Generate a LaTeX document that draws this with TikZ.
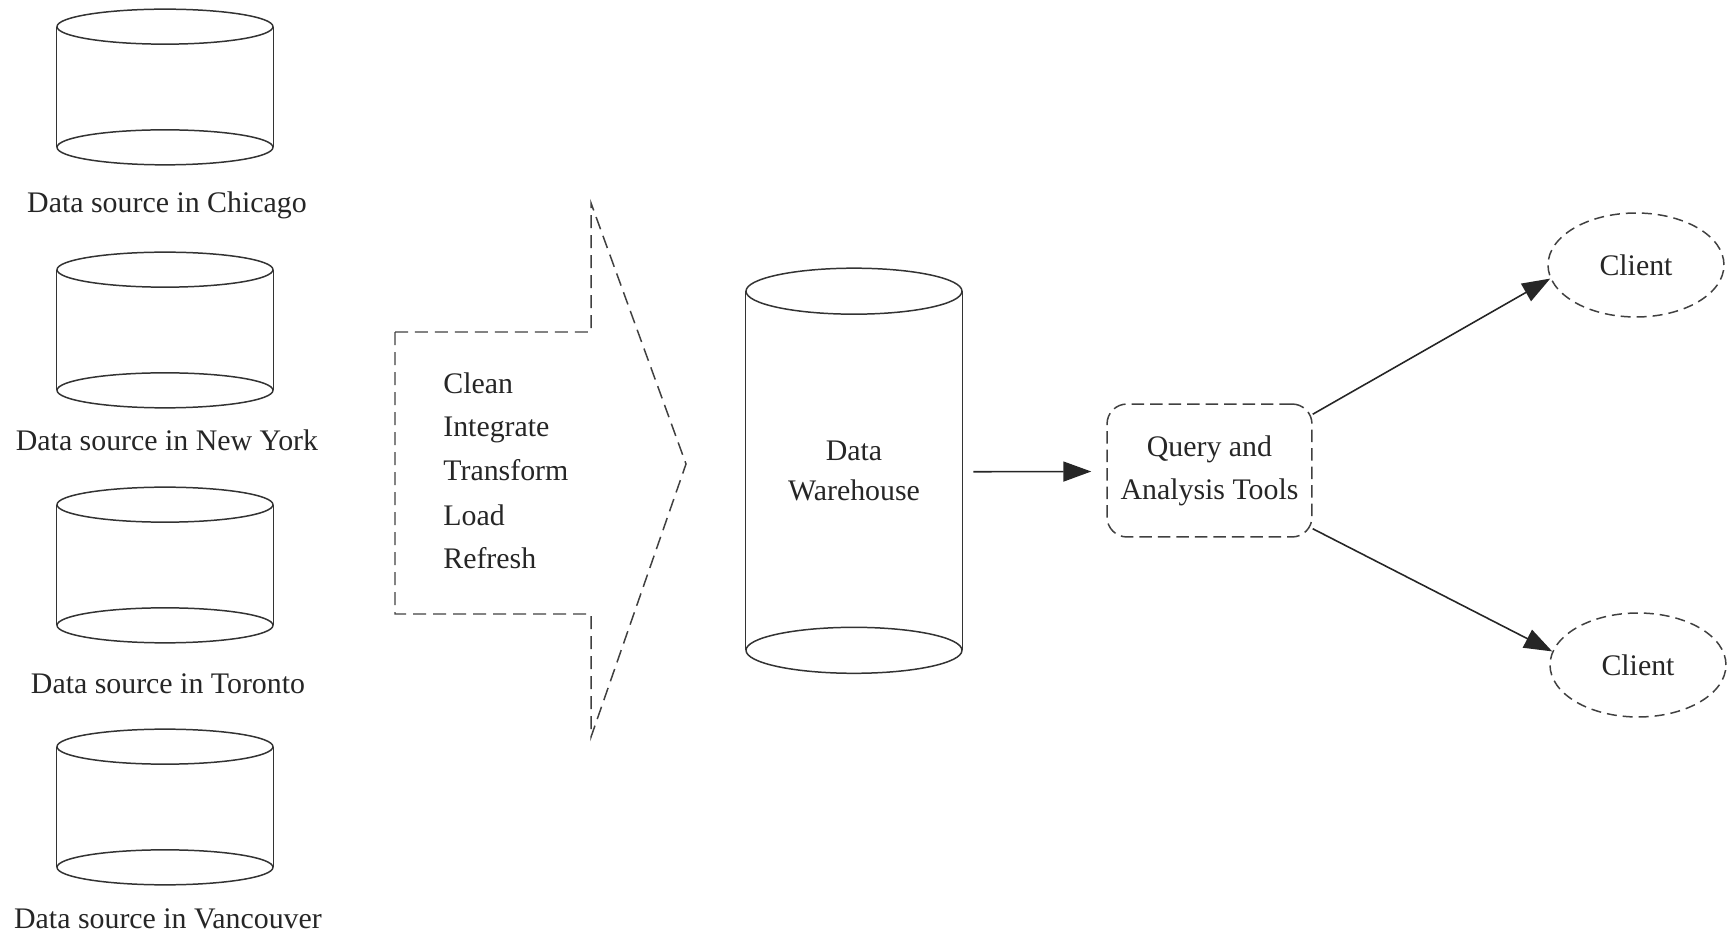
\documentclass[tikz,border=0pt]{standalone}
\usepackage{fontspec}
\setmainfont{Liberation Serif}
\usetikzlibrary{arrows.meta,calc,shapes.geometric}
\newcommand{\drawdb}[2]{%
  \draw[sline] (#1.north west) -- (#1.south west) (#1.north east) -- (#1.south east);
  \draw[sline] (#1.north) ellipse [x radius=2.16cm, y radius=#2];
  \draw[sline] (#1.south) ellipse [x radius=2.16cm, y radius=#2];}
\begin{document}
\begin{tikzpicture}[x=0.02cm,y=-0.02cm,
  txt/.style={font=\fontsize{17}{23}\selectfont, text=black!85, inner sep=0pt},
  sline/.style={line width=0.85pt, draw=black!80},
  dline/.style={line width=0.85pt, draw=black!75, dash pattern=on 0.2cm off 0.12cm},
  bline/.style={line width=0.85pt, draw=black!75, dash pattern=on 0.26cm off 0.14cm},
  dbbody/.style={rectangle, inner sep=0pt, minimum width=4.32cm},
  conn/.style={line width=0.9pt, draw=black!85, -{Triangle[length=0.56cm,width=0.4cm]}},
  lab/.style={txt, anchor=base}
]
\useasboundingbox (0,0) rectangle (1729,932);

% data sources
\node[dbbody, minimum height=2.4cm] (c1) at (165,87) {};
\node[dbbody, minimum height=2.4cm] (c2) at (165,330) {};
\node[dbbody, minimum height=2.4cm] (c3) at (165,565) {};
\node[dbbody, minimum height=2.4cm] (c4) at (165,807) {};
\drawdb{c1}{0.35cm}
\drawdb{c2}{0.35cm}
\drawdb{c3}{0.35cm}
\drawdb{c4}{0.35cm}
\node[lab] (l1) at (167,213) {Data source in Chicago};
\node[lab] (l2) at (167,451) {Data source in New York};
\node[lab] (l3) at (168,693) {Data source in Toronto};
\node[lab] (l4) at (168,928) {Data source in Vancouver};

% block arrow
\draw[bline] (395,332) -- (591,332) -- (591,203) -- (686,464) -- (591,737) -- (591,614) -- (395,614) -- cycle;
\node[txt, anchor=base west] (t1) at (443,394) {Clean};
\node[txt, anchor=base west] (t2) at (443,437) {Integrate};
\node[txt, anchor=base west] (t3) at (443,481) {Transform};
\node[txt, anchor=base west] (t4) at (443,526) {Load};
\node[txt, anchor=base west] (t5) at (443,569) {Refresh};

% data warehouse
\node[dbbody, txt, align=center, minimum height=7.17cm, font=\fontsize{17}{22.8}\selectfont] (dw) at (854,470.75) {Data\\Warehouse};
\drawdb{dw}{0.46cm}

% query tools
\node[txt, dline, dash pattern=on 0.25cm off 0.12cm, rounded corners=0.4cm, minimum width=4.1cm, minimum height=2.66cm, align=center, font=\fontsize{17}{24.5}\selectfont] (q) at (1209.5,470.5) {Query and\\Analysis Tools};

% clients
\node[txt, ellipse, dline, minimum width=3.52cm, minimum height=2.08cm] (cl1) at (1636,265) {Client};
\node[txt, ellipse, dline, minimum width=3.52cm, minimum height=2.08cm] (cl2) at (1638,665) {Client};

% connectors
\draw[conn] ($(dw.east)+(11,1)$) -- ($(q.west)+(-15,1)$);
\draw[conn] ($(q.north east)+(0,11)$) -- (cl1.189);
\draw[conn] ($(q.south east)+(0,-9)$) -- (cl2.171);
\end{tikzpicture}
\end{document}
